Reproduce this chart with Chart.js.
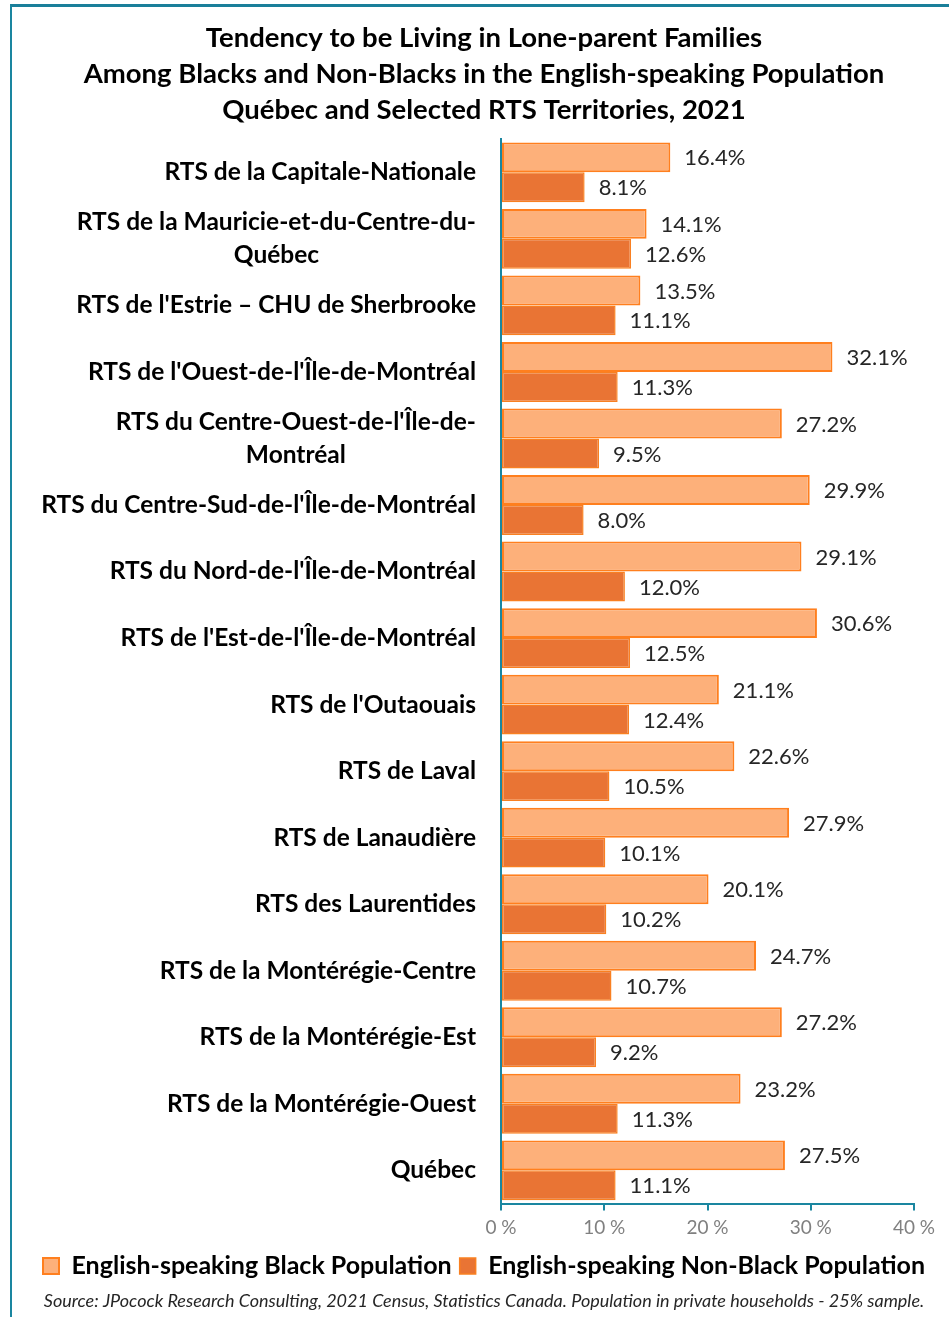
<!DOCTYPE html>
<html>
<head>
<meta charset="utf-8">
<script src="https://cdn.jsdelivr.net/npm/chart.js@4"></script>
<style>
  html, body { margin: 0; padding: 0; background: #ffffff; }
  #frame {
    position: absolute; left: 10px; top: 4px; width: 939px; height: 1313px;
    border-top: 3px solid #1a7f9a; border-left: 2px solid #1a86a0;
    box-sizing: border-box;
  }
  #wrap { position: absolute; left: 0; top: 0; width: 949px; height: 1317px; }
</style>
</head>
<body>
<div id="frame"></div>
<div id="wrap"><canvas id="loneParentChart" width="949" height="1317"></canvas></div>
<script>
// Chart data

const territories = [
  'RTS de la Capitale-Nationale',
  ['RTS de la Mauricie-et-du-Centre-du-', 'Québec'],
  "RTS de l'Estrie – CHU de Sherbrooke",
  "RTS de l'Ouest-de-l'Île-de-Montréal",
  ["RTS du Centre-Ouest-de-l'Île-de-", 'Montréal'],
  "RTS du Centre-Sud-de-l'Île-de-Montréal",
  "RTS du Nord-de-l'Île-de-Montréal",
  "RTS de l'Est-de-l'Île-de-Montréal",
  "RTS de l'Outaouais",
  'RTS de Laval',
  'RTS de Lanaudière',
  'RTS des Laurentides',
  'RTS de la Montérégie-Centre',
  'RTS de la Montérégie-Est',
  'RTS de la Montérégie-Ouest',
  'Québec'
];

const blackPopulation = [16.4, 14.1, 13.5, 32.1, 27.2, 29.9, 29.1, 30.6, 21.1, 22.6, 27.9, 20.1, 24.7, 27.2, 23.2, 27.5];
const nonBlackPopulation = [8.1, 12.6, 11.1, 11.3, 9.5, 8.0, 12.0, 12.5, 12.4, 10.5, 10.1, 10.2, 10.7, 9.2, 11.3, 11.1];

const seriesNames = ['English-speaking Black Population', 'English-speaking Non-Black Population'];
const xTicks = [0, 10, 20, 30, 40];

const titleLines = [
  'Tendency to be Living in Lone-parent Families',
  'Among Blacks and Non-Blacks in the English-speaking Population',
  'Québec and Selected RTS Territories, 2021'
];
const sourceNote = 'Source: JPocock Research Consulting, 2021 Census, Statistics Canada. Population in private households - 25% sample.';

const FONT = 'Lato, "Open Sans", sans-serif';
const AXIS_TEAL = '#1a86a0';
const AXIS_X = 501;
const PAD_LEFT = 19;

// Draw category labels: right aligned block, lines centered inside it
const categoryLabels = {
  id: 'categoryLabels',
  afterDraw(chart) {
    const ctx = chart.ctx;
    const yScale = chart.scales.y;
    ctx.save();
    ctx.font = 'bold 24.5px ' + FONT;
    ctx.fillStyle = '#000000';
    ctx.textAlign = 'center';
    ctx.textBaseline = 'middle';
    const lineHeight = 33;
    territories.forEach((label, i) => {
      const lines = Array.isArray(label) ? label : [label];
      const maxW = Math.max(...lines.map(l => ctx.measureText(l).width));
      const cx = AXIS_X - 25 - maxW / 2;
      const y0 = yScale.getPixelForTick(i) - (lines.length - 1) * lineHeight / 2;
      lines.forEach((line, j) => {
        ctx.fillText(line, cx, y0 + j * lineHeight);
      });
    });
    ctx.restore();
  }
};

// Value labels at the end of each bar
const valueLabels = {
  id: 'valueLabels',
  afterDatasetsDraw(chart) {
    const ctx = chart.ctx;
    ctx.save();
    ctx.font = '22px ' + FONT;
    ctx.fillStyle = '#262626';
    ctx.textAlign = 'left';
    ctx.textBaseline = 'middle';
    chart.data.datasets.forEach((ds, d) => {
      chart.getDatasetMeta(d).data.forEach((bar, i) => {
        ctx.fillText(ds.data[i].toFixed(1) + '%', bar.x + 14, bar.y + 1);
      });
    });
    ctx.restore();
  }
};

const ctx = document.getElementById('loneParentChart').getContext('2d');

new Chart(ctx, {
  type: 'bar',
  data: {
    labels: territories,
    datasets: [
      {
        label: seriesNames[0],
        data: blackPopulation,
        backgroundColor: '#fdb07a',
        borderColor: '#ff7f1e',
        borderWidth: 2,
        borderSkipped: false
      },
      {
        label: seriesNames[1],
        data: nonBlackPopulation,
        backgroundColor: '#e97434',
        borderColor: '#f98021',
        borderWidth: 1.5,
        borderSkipped: false
      }
    ]
  },
  options: {
    responsive: false,
    animation: false,
    indexAxis: 'y',
    layout: {
      padding: { left: PAD_LEFT, right: 0, top: 0, bottom: 2 }
    },
    datasets: {
      bar: { categoryPercentage: 0.9, barPercentage: 1.0 }
    },
    plugins: {
      title: {
        display: true,
        text: titleLines,
        color: '#000000',
        font: { family: FONT, size: 27.5, weight: 'bold', lineHeight: 1.31 },
        padding: { top: 20, bottom: 11 }
      },
      subtitle: {
        display: true,
        position: 'bottom',
        text: sourceNote,
        color: '#262626',
        font: { family: FONT, size: 18, style: 'italic' },
        padding: { top: 2, bottom: 3 }
      },
      legend: {
        display: true,
        position: 'bottom',
        labels: {
          color: '#000000',
          boxWidth: 16,
          boxHeight: 16,
          padding: 8,
          font: { family: FONT, size: 25, weight: 'bold' }
        }
      },
      tooltip: { enabled: false }
    },
    scales: {
      x: {
        min: 0,
        max: 40,
        afterBuildTicks: scale => {
          scale.ticks = xTicks.map(v => ({ value: v }));
        },
        ticks: {
          color: '#808080',
          padding: 6,
          font: { family: FONT, size: 19 },
          callback: v => v + ' %'
        },
        grid: {
          display: true,
          drawOnChartArea: false,
          drawTicks: true,
          tickLength: 7,
          color: AXIS_TEAL,
          lineWidth: 2
        },
        border: { color: AXIS_TEAL, width: 2 }
      },
      y: {
        ticks: { display: false },
        grid: { display: false },
        border: { color: AXIS_TEAL, width: 2 },
        afterFit: scale => {
          scale.width = AXIS_X - PAD_LEFT;
        }
      },
      // empty right-hand gutter so the plot ends at 40 % while the title and legend stay centred on the page
      gutter: {
        type: 'category',
        axis: 'y',
        position: 'right',
        ticks: { display: false },
        grid: { display: false },
        border: { display: false },
        afterFit: scale => {
          scale.width = 35;
        }
      }
    }
  },
  plugins: [categoryLabels, valueLabels]
});
</script>
</body>
</html>
